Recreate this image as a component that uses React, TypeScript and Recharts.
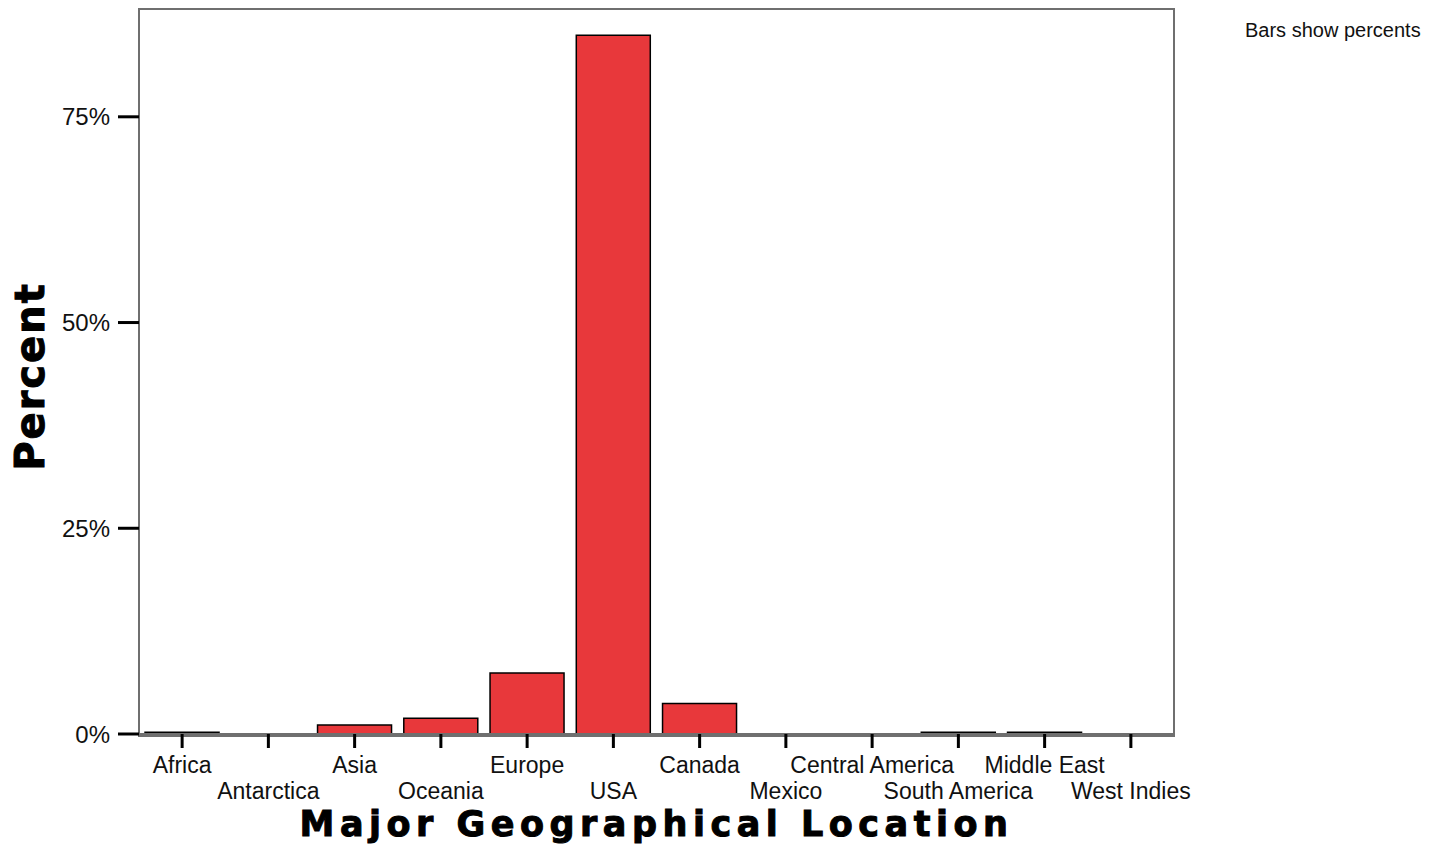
import { Bar, BarChart, Label, XAxis, YAxis } from 'recharts';

const CATEGORIES = [
    'Africa',
    'Antarctica',
    'Asia',
    'Oceania',
    'Europe',
    'USA',
    'Canada',
    'Mexico',
    'Central America',
    'South America',
    'Middle East',
    'West Indies',
];

const PERCENTS = [0.2, 0, 1.1, 1.9, 7.4, 84.9, 3.7, 0, 0, 0.2, 0.2, 0];

const Y_TICKS = [0, 25, 50, 75];

const data = CATEGORIES.map((name, i) => ({ name, percent: PERCENTS[i] }));

const TICK_FONT = "'Liberation Sans', Arial, sans-serif";
const TITLE_FONT = "'DejaVu Sans', Verdana, sans-serif";
const FRAME = '#6f6f6f';

// SPSS staggers the category labels over two rows
function StaggeredTick({ x, y, payload, index }: any) {
    return (
        <text
            x={x}
            y={y + (index % 2 ? 51 : 25)}
            textAnchor="middle"
            fontFamily={TICK_FONT}
            fontSize={23}
            fill="#111"
        >
            {payload.value}
        </text>
    );
}

function XTitle({ viewBox }: any) {
    return (
        <text
            x={viewBox.x + viewBox.width / 2}
            y={viewBox.y + 102}
            textAnchor="middle"
            fontFamily={TITLE_FONT}
            fontWeight={900}
            fontSize={35}
            letterSpacing={5.5}
            stroke="#000"
            strokeWidth={1}
            fill="#000"
        >
            Major Geographical Location
        </text>
    );
}

function YTitle({ viewBox }: any) {
    const cx = viewBox.x + 44;
    const cy = viewBox.y + viewBox.height / 2 + 5;
    return (
        <text
            x={cx}
            y={cy}
            transform={`rotate(-90 ${cx} ${cy})`}
            textAnchor="middle"
            fontFamily={TITLE_FONT}
            fontWeight={900}
            fontSize={40}
            letterSpacing={2}
            stroke="#000"
            strokeWidth={1}
            fill="#000"
        >
            Percent
        </text>
    );
}

export default function App() {
    return (
        <div
            style={{
                position: 'absolute',
                left: 0,
                top: 0,
                width: 1437,
                height: 851,
                background: '#fff',
            }}
        >
            <div
                style={{
                    position: 'absolute',
                    left: 1245,
                    top: 19,
                    fontFamily: TICK_FONT,
                    fontSize: 20,
                    color: '#111',
                    whiteSpace: 'nowrap',
                }}
            >
                Bars show percents
            </div>
            {/* plot frame (top and right edges) */}
            <div
                style={{
                    position: 'absolute',
                    left: 138,
                    top: 8,
                    width: 1033,
                    height: 725,
                    border: `2px solid ${FRAME}`,
                    pointerEvents: 'none',
                }}
            />
            <BarChart
                width={1437}
                height={851}
                data={data}
                margin={{ top: 9, right: 263, left: 0, bottom: 0 }}
                barCategoryGap="7%"
                style={{ position: 'absolute', left: 0, top: 0 }}
            >
                <XAxis
                    dataKey="name"
                    interval={0}
                    height={117}
                    tickSize={14}
                    tickMargin={0}
                    tick={<StaggeredTick />}
                    axisLine={{ stroke: FRAME, strokeWidth: 2 }}
                    tickLine={{ stroke: '#000', strokeWidth: 3 }}
                >
                    <Label content={<XTitle />} />
                </XAxis>
                <YAxis
                    width={139}
                    domain={[0, 88.1]}
                    ticks={Y_TICKS}
                    tickSize={21}
                    tickMargin={8}
                    tickFormatter={(v) => `${v}%`}
                    tick={{ fontFamily: TICK_FONT, fontSize: 24, fill: '#111' }}
                    axisLine={{ stroke: FRAME, strokeWidth: 2 }}
                    tickLine={{ stroke: '#000', strokeWidth: 3 }}
                >
                    <Label content={<YTitle />} />
                </YAxis>
                <Bar
                    dataKey="percent"
                    fill="#e8383b"
                    stroke="#000"
                    strokeWidth={1.5}
                    isAnimationActive={false}
                />
            </BarChart>
        </div>
    );
}
